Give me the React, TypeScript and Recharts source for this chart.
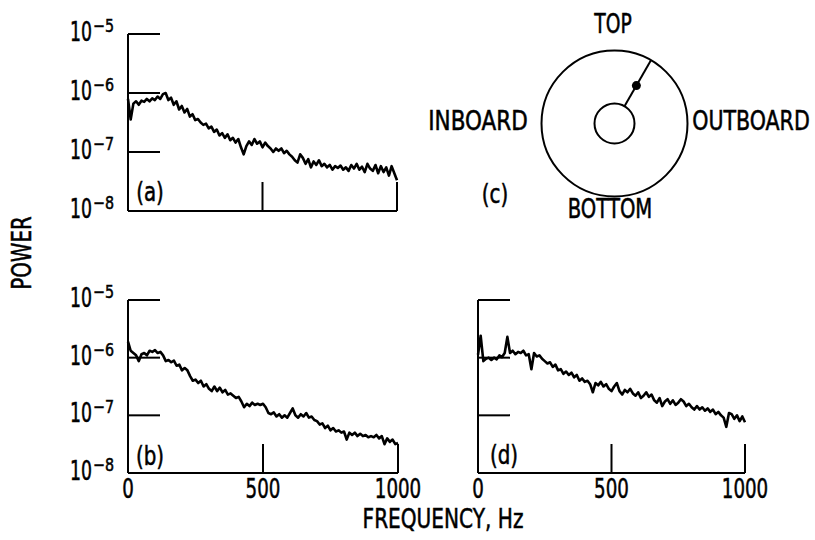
import React from 'react';
import {
  LineChart,
  Line,
  XAxis,
  YAxis,
  ScatterChart,
  Scatter,
  ReferenceDot,
  ReferenceLine,
} from 'recharts';

const FONT = "'DejaVu Sans Condensed', 'DejaVu Sans', sans-serif";

/** Spacing of the spectrum samples, Hz */
const FREQ_STEP = 10;
const FREQ_TICKS = [0, 500, 1000];
/** Decades of the log power axis (10^-8 .. 10^-5) */
const DECADE_TICKS = [-8, -7, -6, -5];

// log10(power), one value every 10 Hz from 0 to 1000 Hz
const POWER_A = [
  -6.1, -6.45, -6.18, -6.14, -6.2, -6.13, -6.15, -6.1, -6.14, -6.09,
  -6.12, -6.06, -6.1, -6.02, -6.0, -6.12, -6.08, -6.2, -6.14, -6.28,
  -6.22, -6.33, -6.27, -6.4, -6.36, -6.46, -6.44, -6.5, -6.54, -6.52,
  -6.6, -6.57, -6.66, -6.62, -6.72, -6.68, -6.76, -6.7, -6.8, -6.76,
  -6.84, -6.78, -6.92, -7.04, -6.9, -6.82, -6.88, -6.78, -6.86, -6.82,
  -6.92, -6.84, -6.9, -6.94, -7.0, -6.94, -6.98, -6.94, -7.02, -6.98,
  -7.04, -7.08, -7.14, -7.18, -7.04, -7.1, -7.2, -7.12, -7.26, -7.16,
  -7.22, -7.14, -7.24, -7.2, -7.26, -7.22, -7.3, -7.24, -7.27, -7.23,
  -7.3, -7.26, -7.32, -7.22, -7.28, -7.2, -7.3, -7.25, -7.34, -7.2,
  -7.28, -7.32, -7.22, -7.36, -7.24, -7.34, -7.26, -7.4, -7.24, -7.36,
  -7.48,
];

const POWER_B = [
  -5.72, -5.88, -5.92, -5.96, -6.06, -5.94, -5.92, -5.96, -5.88, -5.9,
  -5.87, -5.92, -5.9, -5.96, -6.06, -6.04, -6.08, -6.05, -6.14, -6.12,
  -6.22, -6.18, -6.22, -6.32, -6.4, -6.38, -6.44, -6.4, -6.5, -6.46,
  -6.54, -6.58, -6.5, -6.58, -6.52, -6.6, -6.56, -6.64, -6.62, -6.66,
  -6.7, -6.68, -6.76, -6.86, -6.8, -6.84, -6.78, -6.82, -6.8, -6.82,
  -6.8, -6.86, -6.96, -6.98, -6.95, -7.02, -6.98, -7.04, -7.0, -7.04,
  -6.96, -6.88, -7.0, -7.04, -6.98, -7.02, -6.96, -7.04, -7.02, -7.08,
  -7.1, -7.16, -7.14, -7.22, -7.18, -7.26, -7.22, -7.28, -7.26, -7.3,
  -7.28, -7.42, -7.3, -7.34, -7.3, -7.36, -7.32, -7.36, -7.34, -7.38,
  -7.36, -7.38, -7.34, -7.4, -7.36, -7.5, -7.4, -7.46, -7.42, -7.5,
  -7.48,
];

const POWER_D = [
  -5.95, -5.62, -6.06, -6.02, -6.0, -6.04, -6.0, -6.03, -5.96, -5.99,
  -5.92, -5.64, -5.92, -5.88, -5.94, -5.9, -5.92, -5.88, -5.96, -5.94,
  -6.2, -5.92, -5.98, -5.96, -6.02, -6.06, -6.1, -6.08, -6.16, -6.12,
  -6.22, -6.2, -6.28, -6.24, -6.3, -6.26, -6.34, -6.3, -6.4, -6.36,
  -6.42, -6.4, -6.46, -6.6, -6.44, -6.48, -6.42, -6.5, -6.46, -6.54,
  -6.58, -6.5, -6.44, -6.58, -6.64, -6.56, -6.6, -6.54, -6.62, -6.66,
  -6.6, -6.7, -6.66, -6.6, -6.68, -6.64, -6.74, -6.78, -6.7, -6.84,
  -6.76, -6.72, -6.8, -6.74, -6.82, -6.78, -6.72, -6.76, -6.84, -6.8,
  -6.86, -6.9, -6.84, -6.9, -6.86, -6.92, -6.88, -6.94, -6.9, -6.98,
  -6.94, -7.0, -7.04, -7.2, -6.96, -6.98, -7.06, -7.0, -7.1, -7.02,
  -7.12,
];

// Probe position sketch (c), in units of the outer ring radius
const PROBE_SEGMENT = [
  { x: 0.135, y: 0.234 },
  { x: 0.5, y: 0.866 },
];
const SENSOR = [{ x: 0.3, y: 0.52 }];

const toRows = (logs: number[]) => logs.map((p, i) => ({ f: i * FREQ_STEP, p }));

const Y_AXIS_W = 120;
const TOP_PAD = 40;
const RIGHT_PAD = 50;
const X_AXIS_H = 40;

/** Horizontally squeezed text, to mimic the condensed lettering of the original */
const NarrowText: React.FC<{
  x: number;
  y: number;
  sx?: number;
  size?: number;
  anchor?: 'start' | 'middle' | 'end';
  rotate?: number;
  children: React.ReactNode;
}> = ({ x, y, sx = 0.92, size = 26, anchor = 'middle', rotate = 0, children }) => (
  <g transform={`translate(${x},${y}) rotate(${rotate}) scale(${sx},1)`}>
    <text
      x={0}
      y={0}
      textAnchor={anchor}
      fontFamily={FONT}
      fontSize={size}
      fill="#000"
      stroke="#000"
      strokeWidth={0.5}
    >
      {children}
    </text>
  </g>
);

const DecadeTick = (props: any) => {
  const { x, y, payload, showLabel } = props;
  const v: number = payload.value;
  return (
    <g>
      {v !== -8 && <line x1={x} y1={y} x2={x + 32} y2={y} stroke="#000" strokeWidth={2} />}
      {showLabel && (
        <>
          <NarrowText x={x - 36} y={y + 7} sx={0.74} anchor="end">10</NarrowText>
          <NarrowText x={x - 35} y={y - 2} sx={0.88} size={18} anchor="start">{`−${Math.abs(v)}`}</NarrowText>
        </>
      )}
    </g>
  );
};

const FreqTick = (props: any) => {
  const { x, y, payload, showLabel } = props;
  const v: number = payload.value;
  return (
    <g>
      {v !== 0 && <line x1={x} y1={y} x2={x} y2={y - 29} stroke="#000" strokeWidth={2} />}
      {showLabel && (
        <NarrowText x={x} y={y + 25} sx={0.78}>{String(v)}</NarrowText>
      )}
    </g>
  );
};

interface PanelProps {
  left: number;
  top: number;
  plotW: number;
  plotH: number;
  logs: number[];
  yLabels: boolean;
  xLabels: boolean;
}

const SpectrumPanel: React.FC<PanelProps> = ({ left, top, plotW, plotH, logs, yLabels, xLabels }) => (
  <div style={{ position: 'absolute', left: left - Y_AXIS_W, top: top - TOP_PAD }}>
    <LineChart
      width={Y_AXIS_W + plotW + RIGHT_PAD}
      height={TOP_PAD + plotH + X_AXIS_H}
      data={toRows(logs)}
      margin={{ top: TOP_PAD, right: RIGHT_PAD, left: 0, bottom: 0 }}
    >
      <XAxis
        dataKey="f"
        type="number"
        domain={[0, 1000]}
        ticks={FREQ_TICKS}
        interval={0}
        height={X_AXIS_H}
        axisLine={{ stroke: '#000', strokeWidth: 2 }}
        tickLine={false}
        tickSize={0}
        tickMargin={0}
        tick={(p: any) => <FreqTick {...p} showLabel={xLabels} />}
      />
      <YAxis
        type="number"
        domain={[-8, -5]}
        ticks={DECADE_TICKS}
        interval={0}
        width={Y_AXIS_W}
        axisLine={{ stroke: '#000', strokeWidth: 2 }}
        tickLine={false}
        tickSize={0}
        tickMargin={0}
        tick={(p: any) => <DecadeTick {...p} showLabel={yLabels} />}
      />
      <Line
        dataKey="p"
        type="linear"
        stroke="#000"
        strokeWidth={2.6}
        strokeLinejoin="round"
        dot={false}
        isAnimationActive={false}
      />
    </LineChart>
  </div>
);

const ProbeSketch: React.FC = () => (
  <div style={{ position: 'absolute', left: 527, top: 36 }}>
    <ScatterChart width={175} height={175} margin={{ top: 0, right: 0, left: 0, bottom: 0 }}>
      <XAxis type="number" dataKey="x" domain={[-1.2, 1.2]} hide />
      <YAxis type="number" dataKey="y" domain={[-1.2, 1.2]} hide />
      <ReferenceDot x={0} y={0} r={73} fill="none" stroke="#000" strokeWidth={2} />
      <ReferenceDot x={0} y={0} r={20} fill="none" stroke="#000" strokeWidth={2} />
      <ReferenceLine segment={PROBE_SEGMENT} stroke="#000" strokeWidth={2} />
      <Scatter
        data={SENSOR}
        fill="#000"
        shape={(p: any) => <circle cx={p.cx} cy={p.cy} r={4.5} fill="#000" />}
        isAnimationActive={false}
      />
    </ScatterChart>
  </div>
);

export default function App() {
  return (
    <div style={{ position: 'absolute', left: 0, top: 0, width: 815, height: 540, background: '#fff' }}>
      <SpectrumPanel left={128} top={34} plotW={269} plotH={177} logs={POWER_A} yLabels xLabels={false} />
      <SpectrumPanel left={128} top={300} plotW={270} plotH={173} logs={POWER_B} yLabels xLabels />
      <SpectrumPanel left={478} top={300} plotW={267} plotH={173} logs={POWER_D} yLabels={false} xLabels />
      <ProbeSketch />
      <svg
        width={815}
        height={540}
        style={{ position: 'absolute', left: 0, top: 0, pointerEvents: 'none' }}
      >
        <NarrowText x={150} y={201} sx={0.85}>(a)</NarrowText>
        <NarrowText x={150} y={465} sx={0.85}>(b)</NarrowText>
        <NarrowText x={504} y={464} sx={0.85}>(d)</NarrowText>
        <NarrowText x={495} y={203} sx={0.85}>(c)</NarrowText>
        <NarrowText x={613} y={33} sx={0.8}>TOP</NarrowText>
        <NarrowText x={478} y={130} sx={0.92}>INBOARD</NarrowText>
        <NarrowText x={751} y={130} sx={0.88}>OUTBOARD</NarrowText>
        <NarrowText x={610} y={218} sx={0.84}>BOTTOM</NarrowText>
        <NarrowText x={443} y={528} sx={0.86}>FREQUENCY, Hz</NarrowText>
        <NarrowText x={31} y={253} sx={0.85} rotate={-90}>POWER</NarrowText>
      </svg>
    </div>
  );
}
